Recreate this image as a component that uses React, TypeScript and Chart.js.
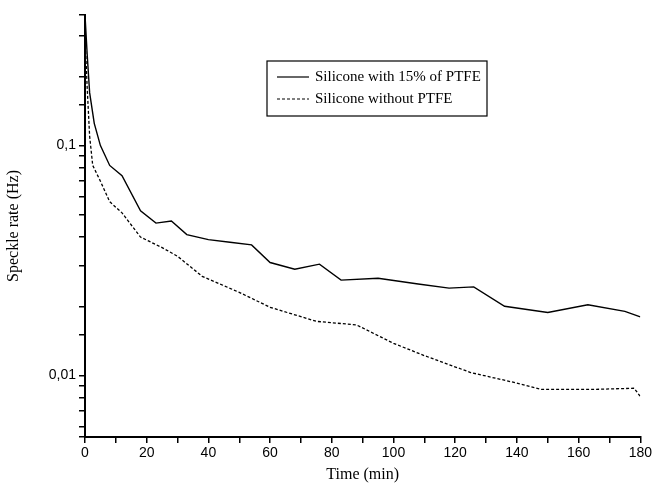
import React, { useEffect, useRef } from "react";
import { Chart, registerables } from "chart.js";
Chart.register(...registerables);

const timeWith = [0, 0.7, 1.5, 3, 5, 8, 12, 18, 23, 28, 33, 40, 47, 54, 60, 68, 76, 83, 95, 108, 118, 126, 136, 150, 163, 175, 180];
const valWith = [0.37, 0.25, 0.17, 0.125, 0.1, 0.082, 0.074, 0.052, 0.046, 0.047, 0.041, 0.039, 0.038, 0.037, 0.031, 0.029, 0.0305, 0.026, 0.0265, 0.025, 0.024, 0.0243, 0.02, 0.0188, 0.0203, 0.019, 0.018];
const timeWithout = [0, 0.7, 1.5, 2.5, 5, 8, 12, 18, 25, 30, 38, 50, 60, 75, 88, 100, 110, 125, 138, 148, 165, 178, 180];
const valWithout = [0.3, 0.18, 0.11, 0.082, 0.07, 0.057, 0.051, 0.04, 0.036, 0.033, 0.027, 0.023, 0.0198, 0.0172, 0.0166, 0.0138, 0.0122, 0.0103, 0.0094, 0.0087, 0.0087, 0.0088, 0.0081];
const legendLabels = ["Silicone with 15% of PTFE", "Silicone without PTFE"];

const legendPlugin = {
  id: "boxLegend",
  afterDraw(chart: any) {
    const ctx = chart.ctx;
    const x = 267, y = 61, w = 220, h = 55;
    ctx.save();
    ctx.strokeStyle = "#000";
    ctx.lineWidth = 1.2;
    ctx.strokeRect(x, y, w, h);
    ctx.font = "15px 'Liberation Serif'";
    ctx.fillStyle = "#000";
    ctx.textBaseline = "middle";
    const rows = [y + 16, y + 38];
    rows.forEach((ry, i) => {
      ctx.beginPath();
      ctx.setLineDash(i === 1 ? [3, 2] : []);
      ctx.moveTo(x + 10, ry);
      ctx.lineTo(x + 42, ry);
      ctx.stroke();
      ctx.setLineDash([]);
      ctx.fillText(legendLabels[i], x + 48, ry);
    });
    ctx.restore();
  },
};

export default function App() {
  const ref = useRef<HTMLCanvasElement>(null);
  useEffect(() => {
    const chart = new Chart(ref.current!, {
      type: "line",
      data: {
        datasets: [
          { data: timeWith.map((t, i) => ({ x: t, y: valWith[i] })), borderColor: "#000", borderWidth: 1.4, pointRadius: 0, tension: 0 },
          { data: timeWithout.map((t, i) => ({ x: t, y: valWithout[i] })), borderColor: "#000", borderWidth: 1.3, borderDash: [3, 2], pointRadius: 0, tension: 0 },
        ],
      },
      plugins: [legendPlugin],
      options: {
        animation: false,
        responsive: false,
        layout: { padding: { top: 15, right: 10, left: 0, bottom: 0 } },
        plugins: { legend: { display: false }, tooltip: { enabled: false } },
        scales: {
          x: {
            type: "linear", min: 0, max: 180,
            afterFit: (s: any) => { s.height = 51; },
            border: { color: "#000", width: 2 },
            grid: { drawOnChartArea: false, color: "#000", tickLength: 6, lineWidth: 1.5 },
            ticks: { stepSize: 10, color: "#000", autoSkip: false, maxRotation: 0, padding: 2, font: { family: "'Liberation Sans'", size: 14 },
              callback: (v: any) => (v % 20 === 0 ? String(v) : "") },
            title: { display: true, text: "Time (min)", color: "#000", font: { family: "'Liberation Serif'", size: 16 }, padding: { top: 1 } },
          },
          y: {
            type: "logarithmic", min: 0.0054, max: 0.37,
            afterFit: (s: any) => { s.width = 85; },
            border: { color: "#000", width: 2 },
            grid: { drawOnChartArea: false, color: "#000", tickLength: 6, lineWidth: 1.5 },
            ticks: { color: "#000", autoSkip: false, padding: 3, font: { family: "'Liberation Sans'", size: 14 },
              callback: (v: any) => {
                const l = Math.log10(v);
                if (Math.abs(l + 1) < 1e-6) return "0,1";
                if (Math.abs(l + 2) < 1e-6) return "0,01";
                return "";
              } },
            title: { display: true, text: "Speckle rate (Hz)", color: "#000", font: { family: "'Liberation Serif'", size: 16 }, padding: { bottom: 2 } },
          },
        },
      },
    });
    return () => chart.destroy();
  }, []);
  return <canvas ref={ref} width={654} height={488} style={{ position: "fixed", left: 0, top: 0 }} />;
}
